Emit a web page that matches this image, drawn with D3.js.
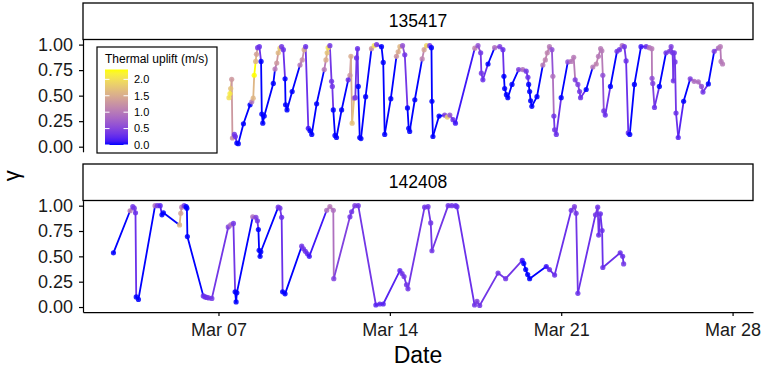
<!DOCTYPE html>
<html>
<head>
<meta charset="utf-8">
<script src="https://cdn.jsdelivr.net/npm/d3@7"></script>
<style>
body { margin: 0; background: #fff; }
text { font-family: "Liberation Sans", Arial, sans-serif; }
</style>
</head>
<body>
<script>
// ----------------------------------------
//  Data (day = day of March, decimal)
// ----------------------------------------

var panelIds = ["135417", "142408"];

var topDay = [7.43,7.47,7.50,7.54,7.57,7.65,7.69,7.75,7.81,8.02,8.29,8.36,8.42,8.46,8.52,8.55,8.60,8.67,8.74,8.77,
  8.81,8.87,9.24,9.31,9.38,9.44,9.51,9.58,9.65,9.72,9.74,9.80,10.01,10.33,10.42,10.50,10.56,10.67,10.74,10.81,
  11.01,11.32,11.39,11.44,11.48,11.55,11.62,11.65,11.69,11.76,11.82,12.03,12.30,12.37,12.41,12.46,12.54,12.59,12.64,12.68,
  12.71,12.77,12.82,13.01,13.25,13.36,13.46,13.66,13.73,13.79,14.04,14.27,14.34,14.41,14.52,14.61,14.72,14.77,14.81,15.02,
  15.32,15.40,15.50,15.63,15.70,15.72,15.76,16.01,16.24,16.35,16.45,16.58,16.68,17.47,17.60,17.71,17.74,17.80,18.01,18.28,
  18.49,18.62,18.66,18.69,18.76,18.82,18.99,19.26,19.43,19.57,19.64,19.67,19.71,19.75,19.80,20.01,20.25,20.35,20.43,20.52,
  20.62,20.66,20.70,20.73,20.80,21.00,21.27,21.41,21.51,21.57,21.68,21.75,21.79,22.02,22.29,22.43,22.52,22.61,22.66,22.70,
  22.74,22.80,23.01,23.28,23.38,23.49,23.58,23.65,23.74,23.80,23.99,24.26,24.47,24.60,24.70,24.71,24.74,24.81,25.01,25.28,
  25.42,25.49,25.55,25.58,25.62,25.65,25.69,25.78,26.00,26.27,26.43,26.60,26.73,26.79,27.01,27.25,27.42,27.50,27.53,27.59];

var topGamma = [0.48,0.52,0.57,0.66,0.085,0.12,0.10,0.035,0.03,0.225,0.41,0.44,0.475,0.70,0.835,0.905,0.97,0.98,0.835,0.32,
  0.23,0.30,0.62,0.76,0.82,0.92,0.965,0.98,0.95,0.665,0.41,0.36,0.54,0.80,0.85,0.95,0.98,0.18,0.155,0.12,
  0.42,0.755,0.85,0.92,0.97,0.99,0.64,0.59,0.36,0.11,0.09,0.36,0.655,0.70,0.885,0.23,0.475,0.48,0.87,0.96,
  0.59,0.09,0.08,0.49,0.96,0.99,1.0,0.98,0.825,0.12,0.47,0.885,0.93,0.98,0.99,0.90,0.38,0.18,0.15,0.46,
  0.86,0.95,0.99,0.99,0.97,0.445,0.10,0.30,0.31,0.29,0.31,0.265,0.23,0.965,0.99,0.92,0.72,0.655,0.81,0.97,
  0.98,0.95,0.69,0.57,0.51,0.48,0.61,0.755,0.755,0.74,0.68,0.61,0.54,0.45,0.395,0.49,0.80,0.85,0.92,0.98,
  0.95,0.69,0.30,0.165,0.12,0.48,0.83,0.835,0.875,0.655,0.61,0.54,0.48,0.56,0.78,0.81,0.885,0.96,0.94,0.70,
  0.35,0.31,0.59,0.935,0.95,0.99,0.98,0.84,0.135,0.12,0.61,0.98,0.98,0.97,0.96,0.67,0.62,0.385,0.59,0.92,
  0.935,0.98,0.92,0.645,0.92,0.83,0.33,0.09,0.445,0.665,0.64,0.635,0.59,0.535,0.615,0.935,0.965,0.98,0.835,0.81];

var topUplift = [2.0,2.1,1.7,1.3,1.2,0.35,0.3,0,0,0, 0,1.0,1.6,2.3,1.6,1.4,0.35,0.3,0,0,
  0,0,0,1.0,1.3,1.6,1.8,0.35,0.3,0, 0,0,0,1.0,1.2,1.5,0.3,0.1,0,0,
  0,1.0,1.5,1.7,2.0,0.35,0.35,0.35,0,0, 0,0,0.3,1.3,1.5,1.7,1.0,0.35,0.3,0.3,
  0,0,0,0,1.3,2.0,0.35,0,0,0, 0,1.3,1.5,1.6,0.6,0.35,0,0,0,0,
  1.1,1.4,1.9,0.35,0,0,0,0,0.45,1.8, 0.6,0.3,0.1,1.1,0.6,0.35,0.35,0.3,0,0.9,
  0.45,0.3,0,0,0,0,0,0.45,0.9,0.35, 0.3,0,0,0,0,0,1.0,1.1,1.1,1.0,
  0.6,0.9,0.35,0.35,0.3,0,0.6,1.0,1.0,0.45, 0.45,0.35,0.3,0,1.0,1.1,1.0,1.0,1.0,0.6,
  0.35,0.3,0,0.35,0.35,0.9,0.35,0.3,0.25,0, 0,0.1,0.3,0.9,1.0,0.6,0.45,0.3,0,0.35,
  0.45,0.45,0.35,0.35,0.35,0.35,0.3,0.2,0,0.45, 0.9,0.9,0.6,0.35,0,0.45,0.9,1.0,1.0,1.0];

var botDay = [2.71,3.39,3.50,3.56,3.61,3.64,3.73,4.41,4.51,4.62,4.69,4.75,5.41,5.46,5.50,5.60,5.68,5.71,5.73,6.38,
  6.45,6.52,6.60,6.73,7.40,7.50,7.61,7.68,7.72,7.75,8.40,8.53,8.59,8.63,8.66,8.70,8.73,9.44,9.51,9.58,
  9.62,9.72,10.40,10.47,10.55,10.63,10.71,11.42,11.55,11.69,11.71,12.37,12.44,12.57,12.71,13.43,13.59,13.73,14.41,14.50,
  14.58,14.68,14.74,15.42,15.56,15.67,15.72,16.38,16.53,16.69,16.74,17.46,17.56,17.67,18.42,18.73,19.41,19.47,19.55,19.63,
  19.71,20.39,20.52,20.73,21.41,21.54,21.61,21.68,22.40,22.49,22.53,22.60,22.67,22.70,23.41,23.51,23.55];

var botGamma = [0.535,0.95,0.99,0.975,0.93,0.10,0.075,1.0,1.0,1.0,0.91,0.93,0.81,0.925,0.985,1.0,0.99,0.975,0.695,0.11,
  0.10,0.095,0.09,0.085,0.79,0.81,0.825,0.15,0.05,0.14,0.89,0.885,0.85,0.765,0.56,0.50,0.545,0.985,0.975,0.885,
  0.15,0.13,0.60,0.575,0.55,0.525,0.50,0.955,0.99,0.955,0.28,0.89,0.94,1.0,1.0,0.02,0.03,0.03,0.36,0.33,
  0.30,0.22,0.18,0.985,0.99,0.83,0.555,1.0,1.0,1.0,0.99,0.02,0.055,0.015,0.335,0.28,0.46,0.43,0.37,0.32,
  0.28,0.40,0.37,0.315,0.955,0.99,0.925,0.135,0.91,0.985,0.71,0.92,0.755,0.39,0.535,0.50,0.425];

var botUplift = [0,1.0,0.35,0.35,0.3,0,0,0.9,0.35,0.2,0,0,1.6,1.4,1.0,0.35,0,0,0,0.3,
  0.3,0.3,0.35,0.35,0.45,0.9,0.35,0,0,0,0.9,0.45,0.35,0,0,0,0,0.35,0.35,0.3,
  0,0,0.35,0.35,0.3,0.25,0.1,0.9,1.0,0.9,0.45,0.35,0.35,0.45,0.35,0.2,0.25,0.2,0.25,0.35,
  0.35,0.35,0.35,0.35,0.35,0.35,0.35,0.35,0.35,0.3,0.3,0.35,0.45,0.35,0.35,0.35,0.1,0,0,0,
  0,0.1,0.3,0.3,0.35,0.45,0.35,0.3,0.35,0.35,0.3,0.3,0.3,0.3,0.3,0.3,0.35];

var tickDays = [7, 14, 21, 28];
var gammaTicks = [0, 0.25, 0.5, 0.75, 1];
var legendTicks = [0, 0.5, 1, 1.5, 2];

// ----------------------------------------
//  Layout
// ----------------------------------------

var width = 765, height = 369;
var left = 83, right = 753;
var stripH = 36.5;
var panelBoxes = [
  {strip: 3, top: 39.5, bottom: 151.8},
  {strip: 164, top: 200.6, bottom: 312.1}
];

function toDate(d) { return new Date(Date.UTC(2019, 2, 1) + (d - 1) * 864e5); }

var series = [
  {id: panelIds[0], day: topDay, gamma: topGamma, uplift: topUplift},
  {id: panelIds[1], day: botDay, gamma: botGamma, uplift: botUplift}
];

var allDays = topDay.concat(botDay);
var dMin = d3.min(allDays), dMax = d3.max(allDays);
var pad = (dMax - dMin) * 0.05;

var x = d3.scaleUtc()
  .domain([toDate(dMin - pad), toDate(dMax + pad)])
  .range([left, right]);

var allUplift = topUplift.concat(botUplift);
var color = d3.scaleLinear()
  .domain([d3.min(allUplift), d3.max(allUplift)])
  .range(["blue", "yellow"])
  .interpolate(d3.interpolateLab);

var svg = d3.select("body").append("svg")
  .attr("width", width)
  .attr("height", height);

// ----------------------------------------
//  Panels
// ----------------------------------------

series.forEach(function(s, i) {
  var box = panelBoxes[i];
  var y = d3.scaleLinear().domain([-0.05, 1.05]).range([box.bottom, box.top]);

  // strip
  svg.append("rect")
    .attr("x", left).attr("y", box.strip)
    .attr("width", right - left).attr("height", stripH)
    .attr("fill", "#fff").attr("stroke", "#000").attr("stroke-width", 1.3);
  svg.append("text")
    .attr("x", (left + right) / 2).attr("y", box.strip + stripH / 2)
    .attr("dy", "0.35em").attr("text-anchor", "middle")
    .attr("font-size", 17.5).text(s.id);

  var pts = s.day.map(function(d, k) {
    return {date: toDate(d), gamma: s.gamma[k], uplift: s.uplift[k]};
  });

  var g = svg.append("g");
  // path segments, coloured by the starting point
  g.selectAll(".seg")
    .data(pts.slice(0, -1))
    .enter().append("line")
    .attr("x1", function(d) { return x(d.date); })
    .attr("y1", function(d) { return y(d.gamma); })
    .attr("x2", function(d, k) { return x(pts[k + 1].date); })
    .attr("y2", function(d, k) { return y(pts[k + 1].gamma); })
    .attr("stroke", function(d) { return color(d.uplift); })
    .attr("stroke-width", 1.8)
    .attr("stroke-linecap", "round");

  g.selectAll(".pt")
    .data(pts)
    .enter().append("circle")
    .attr("cx", function(d) { return x(d.date); })
    .attr("cy", function(d) { return y(d.gamma); })
    .attr("r", 2.6)
    .attr("fill", function(d) { return color(d.uplift); })
    .attr("fill-opacity", 0.85);

  // y axis
  var ya = svg.append("g")
    .attr("transform", "translate(" + left + ",0)")
    .call(d3.axisLeft(y).tickValues(gammaTicks).tickFormat(d3.format(".2f"))
      .tickSize(4).tickSizeOuter(0).tickPadding(6));
  ya.selectAll("text").attr("font-size", 18).attr("fill", "#1a1a1a").attr("font-family", "Liberation Sans, Arial, sans-serif");
  ya.selectAll("line,path").attr("stroke", "#000").attr("stroke-width", 1.2);

  if (i === series.length - 1) {
    var xa = svg.append("g")
      .attr("transform", "translate(0," + box.bottom + ")")
      .call(d3.axisBottom(x).tickValues(tickDays.map(toDate))
        .tickFormat(d3.utcFormat("%b %d")).tickSize(4).tickSizeOuter(0).tickPadding(7));
    xa.selectAll("text").attr("font-size", 18).attr("fill", "#1a1a1a").attr("font-family", "Liberation Sans, Arial, sans-serif");
    xa.selectAll("line,path").attr("stroke", "#000").attr("stroke-width", 1.2);
  }
});

// axis titles
svg.append("text")
  .attr("x", (left + right) / 2).attr("y", 363)
  .attr("text-anchor", "middle").attr("font-size", 23).text("Date");
svg.append("text")
  .attr("transform", "translate(19," + (panelBoxes[0].top + panelBoxes[1].bottom) / 2 + ") rotate(-90)")
  .attr("text-anchor", "middle").attr("font-size", 22).text("γ");

// ----------------------------------------
//  Legend
// ----------------------------------------

var lg = svg.append("g");
lg.append("rect")
  .attr("x", 97).attr("y", 47).attr("width", 120).attr("height", 106)
  .attr("fill", "#fff").attr("stroke", "#000").attr("stroke-width", 1.2);
lg.append("text")
  .attr("x", 105).attr("y", 62.5).attr("font-size", 12).text("Thermal uplift (m/s)");

var ly = d3.scaleLinear().domain(color.domain()).range([145, 69.5]);
var grad = svg.append("defs").append("linearGradient")
  .attr("id", "upliftGrad").attr("x1", 0).attr("y1", 1).attr("x2", 0).attr("y2", 0);
d3.range(0, 1.0001, 0.05).forEach(function(t) {
  var v = color.domain()[0] + t * (color.domain()[1] - color.domain()[0]);
  grad.append("stop").attr("offset", t).attr("stop-color", color(v));
});
lg.append("rect")
  .attr("x", 105).attr("y", ly.range()[1])
  .attr("width", 23).attr("height", ly.range()[0] - ly.range()[1])
  .attr("fill", "url(#upliftGrad)");
legendTicks.forEach(function(t) {
  lg.append("line").attr("x1", 105).attr("x2", 109.5).attr("y1", ly(t)).attr("y2", ly(t))
    .attr("stroke", "#fff").attr("stroke-width", 1);
  lg.append("line").attr("x1", 123.5).attr("x2", 128).attr("y1", ly(t)).attr("y2", ly(t))
    .attr("stroke", "#fff").attr("stroke-width", 1);
  lg.append("text").attr("x", 134).attr("y", ly(t)).attr("dy", "0.35em")
    .attr("font-size", 11).text(d3.format(".1f")(t));
});
</script>
</body>
</html>
